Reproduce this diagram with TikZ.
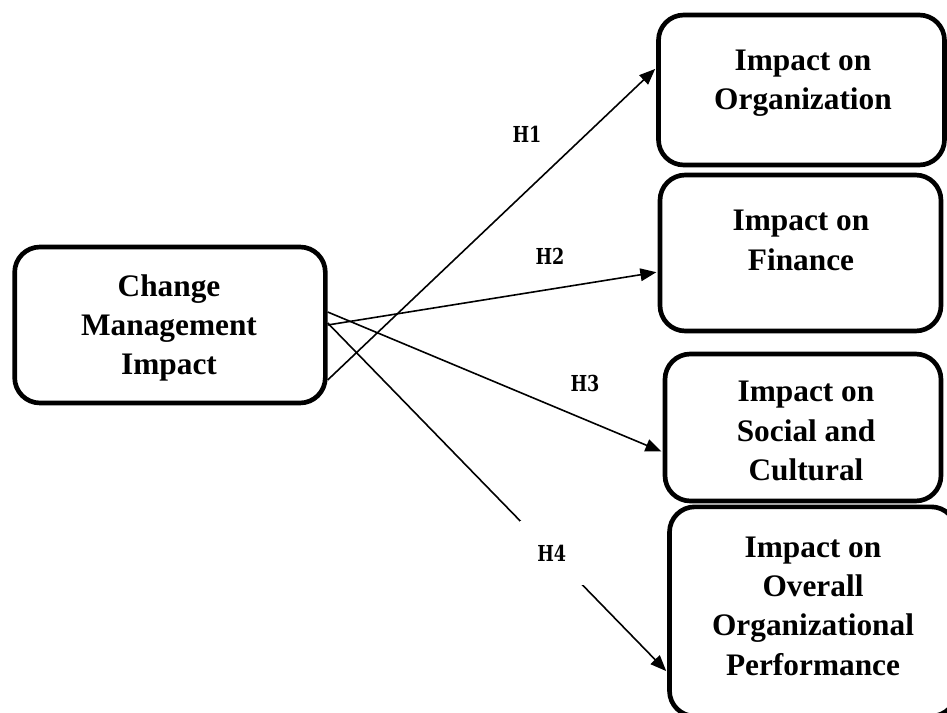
\documentclass[tikz,border=0pt]{standalone}
\usepackage{fontspec}
\setmainfont{Liberation Serif}
\newfontfamily\hypfont[FakeStretch=0.8]{DejaVu Serif}
\usetikzlibrary{arrows.meta}

\begin{document}
\begin{tikzpicture}[x=0.75pt, y=-0.75pt,
    box/.style={draw, line width=3.5pt, rounded corners=19pt},
    boxtext/.style={align=center, font=\bfseries\fontsize{23.5}{29.5}\selectfont},
    hyp/.style={font=\hypfont\bfseries\fontsize{16.5}{18}\selectfont},
    link/.style={line width=1.2pt, -{Triangle[length=12pt, width=9.5pt]}, shorten >=1pt}]
    \useasboundingbox (0,0) rectangle (947,713);
    \clip (0,0) rectangle (947,713);

    % Independent variable
    \node[box, minimum width=233pt, minimum height=117pt] (cmi) at (170,325) {};
    \node[boxtext] (cmitxt) at (169,328) {Change\\Management\\Impact};

    % Dependent variables
    \node[box, minimum width=214.5pt, minimum height=112.5pt] (org) at (801.5,90) {};
    \node[boxtext] (orgtxt) at (803,83) {Impact on\\Organization};

    \node[box, minimum width=210.75pt, minimum height=117pt] (fin) at (800.5,253) {};
    \node[boxtext] (fintxt) at (801,240.5) {Impact on\\Finance};

    \node[box, minimum width=207pt, minimum height=110.25pt] (soc) at (803,427.5) {};
    \node[boxtext] (soctxt) at (806,431) {Impact on\\Social and\\Cultural};

    \node[box, minimum width=215.25pt, minimum height=157pt] (perf) at (813,611.5) {};
    \node[boxtext] (perftxt) at (813,606) {Impact on\\Overall\\Organizational\\Performance};

    % Hypotheses
    \draw[link] ([yshift=-41.25pt]cmi.east) -- ([yshift=16.5pt]org.west);
    \draw[link] (cmi.east) -- ([yshift=-14.25pt]fin.west);
    \draw[link] ([yshift=9.75pt]cmi.east) -- ([yshift=-18.4pt]soc.west);
    \draw[link] ([yshift=1.5pt]cmi.east) -- node[hyp, pos=.66, fill=white, minimum size=48pt] (h4) {H4} ([yshift=-45.4pt]perf.west);

    \node[hyp] (h1) at (527,134.5) {H1};
    \node[hyp] (h2) at (550,256) {H2};
    \node[hyp] (h3) at (585,383) {H3};
\end{tikzpicture}
\end{document}
